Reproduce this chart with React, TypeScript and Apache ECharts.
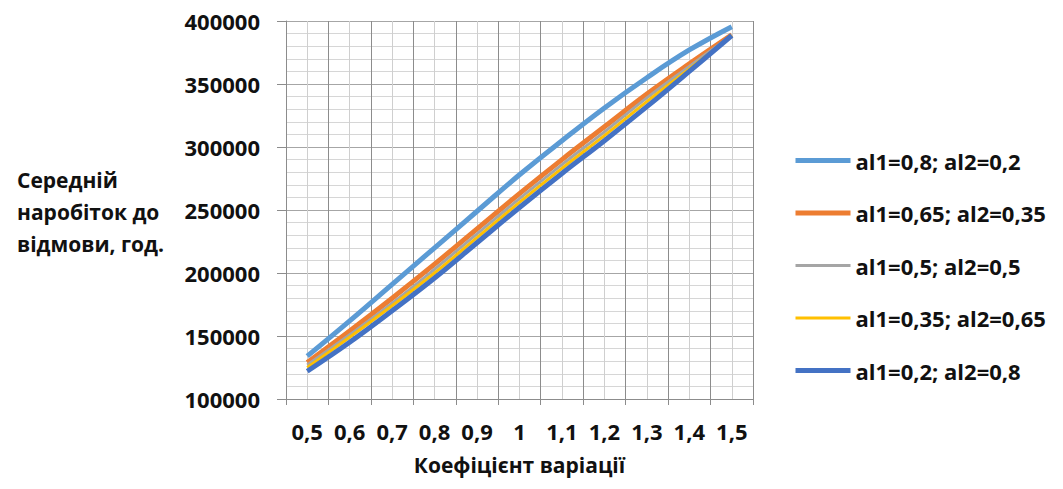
import React, { useEffect, useRef } from "react";
import * as echarts from "echarts";

const categories = ["0,5", "0,6", "0,7", "0,8", "0,9", "1", "1,1", "1,2", "1,3", "1,4", "1,5"];
const seriesNames = [
  "al1=0,8; al2=0,2",
  "al1=0,65; al2=0,35",
  "al1=0,5; al2=0,5",
  "al1=0,35; al2=0,65",
  "al1=0,2; al2=0,8",
];
const s1 = [134000, 162000, 191000, 220000, 249000, 278000, 305000, 331000, 355000, 377000, 395500];
const s2 = [129000, 154000, 180000, 207000, 235000, 263000, 290000, 316000, 342000, 366000, 389000];
const s3 = [127000, 151000, 176000, 203000, 231000, 259000, 286000, 312000, 339000, 364000, 388500];
const s4 = [125000, 149000, 174000, 200000, 228000, 256000, 283000, 309000, 336000, 362000, 388500];
const s5 = [122000, 145000, 170000, 196000, 224000, 252000, 279000, 305000, 332000, 360000, 388500];
const seriesValues = [s1, s2, s3, s4, s5];
const colors = ["#5B9BD5", "#ED7D31", "#A5A5A5", "#FFC000", "#4472C4"];
const widths = [5, 5, 3, 3, 5];
const yAxisTitle = "Середній\nнаробіток до\nвідмови, год.";
const xAxisTitle = "Коефіцієнт варіації";

const FONT = "'Open Sans', 'Noto Sans', sans-serif";

export default function App() {
  const ref = useRef<HTMLDivElement>(null);
  useEffect(() => {
    document.body.style.margin = "0";
    const chart = echarts.init(ref.current!, null, { renderer: "svg" });
    chart.setOption({
      animation: false,
      backgroundColor: "#ffffff",
      color: colors,
      grid: { left: 286, right: 310, top: 21, bottom: 90, containLabel: false },
      legend: {
        orient: "vertical",
        left: 788,
        top: 143,
        itemWidth: 55,
        itemHeight: 14,
        itemGap: 27.5,
        data: seriesNames.map((name, i) => ({
          name,
          lineStyle: { width: widths[i], color: colors[i] },
        })),
        itemStyle: { color: "rgba(0,0,0,0)", borderWidth: 0, opacity: 0 },
        textStyle: { fontFamily: FONT, fontWeight: "bold", fontSize: 22, color: "#111", lineHeight: 25 },
      },
      graphic: [
        {
          type: "text",
          left: 17,
          top: 164,
          style: {
            text: yAxisTitle,
            font: `bold 21px ${FONT}`,
            fill: "#111",
            align: "center",
            lineHeight: 32,
            width: 160,
          },
        },
      ],
      xAxis: [
        {
          type: "value",
          min: 0,
          max: 22,
          interval: 1,
          axisLine: { show: false },
          axisTick: { show: false },
          axisLabel: { show: false },
          splitLine: { show: true, lineStyle: { color: "#cfcfcf", width: 1 } },
        },
        {
          type: "category",
          data: categories,
          boundaryGap: true,
          position: "bottom",
          axisLine: { show: true, lineStyle: { color: "#8c8c8c", width: 1 } },
          axisTick: { show: true, length: 6, lineStyle: { color: "#8c8c8c" } },
          splitLine: { show: true, interval: 0, lineStyle: { color: "#8c8c8c", width: 1 } },
          axisLabel: { interval: 0, fontFamily: FONT, fontWeight: "bold", fontSize: 22, color: "#111", margin: 21 },
          name: xAxisTitle,
          nameLocation: "middle",
          nameGap: 55,
          nameTextStyle: { fontFamily: FONT, fontWeight: "bold", fontSize: 21, color: "#111" },
        },
      ],
      yAxis: {
        type: "value",
        min: 100000,
        max: 400000,
        interval: 50000,
        axisLine: { show: true, lineStyle: { color: "#8c8c8c" } },
        axisTick: { show: true, length: 9, lineStyle: { color: "#8c8c8c" } },
        axisLabel: {
          fontFamily: FONT,
          fontWeight: "bold",
          fontSize: 22,
          color: "#111",
          margin: 26,
          formatter: (v: number) => String(v),
        },
        splitLine: { show: true, lineStyle: { color: "#a6a6a6", width: 1 } },
        minorTick: { show: false, splitNumber: 5 },
        minorSplitLine: { show: true, lineStyle: { color: "#d6d6d6", width: 1 } },
      },
      series: seriesNames.map((name, i) => ({
        name,
        type: "line",
        xAxisIndex: 1,
        data: seriesValues[i],
        smooth: 0.4,
        symbol: "none",
        lineStyle: { color: colors[i], width: widths[i] },
        itemStyle: { color: colors[i] },
        z: 2 + i,
      })),
    });
    return () => chart.dispose();
  }, []);
  return <div ref={ref} style={{ width: 1063, height: 489 }} />;
}
